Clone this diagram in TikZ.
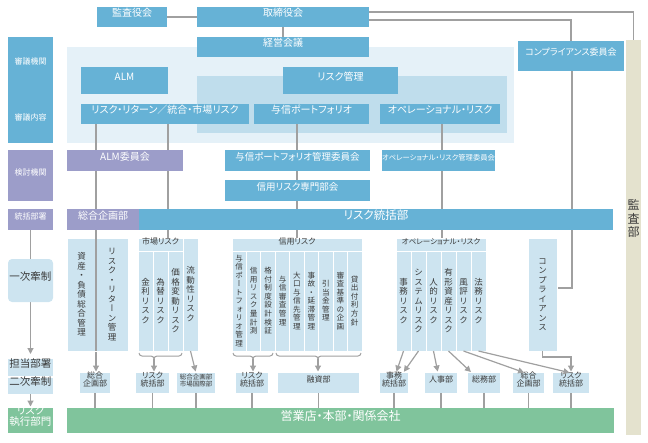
\documentclass[tikz,border=0pt]{standalone}
\usepackage{fontspec}
\setmainfont{Noto Sans CJK JP}[RawFeature=+palt]
\newfontfamily\vfont{Noto Sans CJK JP}[RawFeature=+vert]
\usetikzlibrary{fit,arrows.meta}
\definecolor{cBlue}{HTML}{66B2D6}
\definecolor{cPur}{HTML}{9C9DC9}
\definecolor{cBg}{HTML}{E5F1F8}
\definecolor{cBgB}{HTML}{BFDDEC}
\definecolor{cLt}{HTML}{CDE4F0}
\definecolor{cGreen}{HTML}{80C49C}
\definecolor{cBeige}{HTML}{E4E2CE}
\definecolor{cLine}{HTML}{A0A0A0}
\definecolor{cTxt}{HTML}{3A3A3A}
\makeatletter
\newcommand\VT[1]{{\vfont\vbox{\offinterlineskip\@tfor\VT@c:=#1\do{\hbox to 1em{\hss\vrule height .92em depth .2em width 0pt\VT@c\hss}}}}}
\makeatother
\newcommand\hbrace[5]{\draw[brc] (#1,#4) to[out=-90,in=180] ({#1+3},{#4+3}) -- ({#3-3},{#4+3}) to[out=0,in=90] (#3,{#4+6}) coordinate (#5) to[out=90,in=180] ({#3+3},{#4+3}) -- ({#2-3},{#4+3}) to[out=0,in=-90] (#2,#4);}
\pgfdeclarelayer{bgl}
\pgfdeclarelayer{lin}
\pgfsetlayers{bgl,lin,main}
\tikzset{
 box/.style={inner sep=0pt, outer sep=0pt, align=center},
 blu/.style={box, fill=cBlue, text=white, font=\fontsize{10}{12}\selectfont},
 pur/.style={box, fill=cPur, text=white, font=\fontsize{10}{12}\selectfont},
 lbl/.style={font=\fontsize{8}{9}\selectfont, text=white},
 col/.style={inner sep=0pt, outer sep=0pt, fill=cLt, text=cTxt, draw=white, line width=1pt, font=\fontsize{8}{9}\selectfont},
 vt/.style={inner sep=0pt, outer sep=0pt, text=cTxt, font=\fontsize{8.5}{9}\selectfont},
 sm/.style={box, fill=cLt, text=cTxt, font=\fontsize{8}{8.6}\selectfont},
 side/.style={box, fill=cLt, text=cTxt, font=\fontsize{10.5}{12}\selectfont},
 grn/.style={box, fill=cGreen, text=white},
 ln/.style={draw=cLine, line width=1.2pt},
 arr/.style={ln, -{Triangle[length=6pt,width=6pt]}, shorten >=1.5pt},
 brc/.style={draw=cLine, line width=1pt},
}
\begin{document}
\begin{tikzpicture}[x=1pt,y=-1pt]
\useasboundingbox (0,0) rectangle (648,442);
% top
\node[blu, fit={(97,7)(167,27)}] (kansa) {監査役会};
\node[blu, fit={(197,7)(369,27)}] (tori) {取締役会};
\node[blu, fit={(197,37)(369,57)}] (keiei) {経営会議};
\node[blu, fit={(518,41)(624,71)}, font=\fontsize{9}{11}\selectfont] (compc) {コンプライアンス委員会};
\node[box, fill=cBeige, fit={(626,40)(641,435)}] (audit) {};
\node[text=cTxt, font=\fontsize{12}{13}\selectfont, inner sep=0pt] (auditT) at (633.5,219) {\VT{監査部}};
% left labels
\node[blu, fit={(8,37)(53,143)}] (shingi) {};
\node[lbl] (shingiA) at (30.5,61) {審議機関};
\node[lbl] (shingiB) at (30.5,117) {審議内容};
\node[pur, fit={(8,150)(53,201)}, lbl] (kento) {検討機関};
\node[pur, fit={(8,209)(53,230)}, lbl] (tokatsu) {統括部署};
\node[side, rounded corners=4pt, fit={(8,259)(53,302)}] (ichiji) {一次牽制};
\node[side, fit={(8,359)(53,376)}] (tanto) {担当部署};
\node[side, fit={(8,378)(53,394)}] (niji) {二次牽制};
\node[grn, fit={(8,408)(53,433)}, font=\fontsize{10.5}{11.5}\selectfont] (shikko) {リスク\\執行部門};
% deliberation
\node[blu, fit={(81,67)(168,94)}] (alm) {ALM};
\node[blu, fit={(283,67)(398,94)}] (rkanri) {リスク管理};
\node[blu, fit={(81,104)(249,124)}] (rr) {リスク・リターン／統合・市場リスク};
\node[blu, fit={(254,104)(369,124)}] (ypf) {与信ポートフォリオ};
\node[blu, fit={(380,104)(500,124)}] (opr) {オペレーショナル・リスク};
% committees
\node[pur, fit={(67,150)(183,171)}] (almc) {ALM委員会};
\node[blu, fit={(225,150)(370,171)}, font=\fontsize{9.5}{11}\selectfont] (ypfc) {与信ポートフォリオ管理委員会};
\node[blu, fit={(382,150)(495,171)}, font=\fontsize{7.3}{9}\selectfont] (oprc) {オペレーショナル・リスク管理委員会};
\node[blu, fit={(225,180)(370,201)}, font=\fontsize{9.5}{11}\selectfont] (shinyo) {信用リスク専門部会};
% control depts
\node[pur, fit={(67,209)(139,230)}] (sogo) {総合企画部};
\node[blu, fit={(139,209)(613,230)}, font=\fontsize{11.5}{13}\selectfont] (rtb) {リスク統括部};
% first-line columns
\node[col, fit={(67,238)(96,351)}] (cA) {};
\node[vt] (cAt) at (cA.center) {\VT{資産・負債総合管理}};
\node[col, fit={(96,238)(128,351)}] (cB) {};
\node[vt] (cBt) at (cB.center) {\VT{リスク・リターン管理}};
\node[col, fit={(138,238)(183,251)}] (mkt) {市場リスク};
\node[col, fit={(138,251)(153,351)}] (m1) {};
\node[vt] (m1t) at (m1.center) {\VT{金利リスク}};
\node[col, fit={(153,251)(168,351)}] (m2) {};
\node[vt] (m2t) at (m2.center) {\VT{為替リスク}};
\node[col, fit={(168,251)(183,351)}] (m3) {};
\node[vt] (m3t) at (m3.center) {\VT{価格変動リスク}};
\node[col, fit={(183,238)(198,351)}] (m4) {};
\node[vt] (m4t) at (m4.center) {\VT{流動性リスク}};
\node[col, fit={(232,238)(362,251)}] (cr) {信用リスク};
\foreach \t [count=\i] in {与信ポートフォリオ管理,信用リスク量計測,格付制度設計検証,与信審査管理,大口与信先管理,事故・延滞管理,引当金管理,審査基準の企画,貸出付利方針}{
  \node[col, fit={({232+(\i-1)*14.444},251) ({232+\i*14.444},351)}] (cr\i) {};
  \node[vt, font=\fontsize{7.6}{8}\selectfont] (crt\i) at (cr\i.center) {\expandafter\VT\expandafter{\t}};
}
\node[col, fit={(396,238)(486,251)}, font=\fontsize{7.5}{8}\selectfont] (orh) {オペレーショナル・リスク};
\foreach \t [count=\i] in {事務リスク,システムリスク,人的リスク,有形資産リスク,風評リスク,法務リスク}{
  \node[col, fit={({396+(\i-1)*15},251) ({396+\i*15},351)}] (or\i) {};
  \node[vt] (ort\i) at (or\i.center) {\expandafter\VT\expandafter{\t}};
}
\node[col, fit={(528,238)(557,351)}] (comp) {};
\node[vt] (compt) at (comp.center) {\VT{コンプライアンス}};
% second-line boxes
\node[sm, fit={(80,373)(110,393)}] (b1) {総合\\企画部};
\node[sm, fit={(136,373)(169,393)}] (b2) {リスク\\統括部};
\node[sm, fit={(177,373)(215,393)}, font=\fontsize{6.5}{7.2}\selectfont] (b3) {総合企画部\\市場国際部};
\node[sm, fit={(236,373)(268,393)}] (b4) {リスク\\統括部};
\node[sm, fit={(278,373)(359,393)}] (b5) {融資部};
\node[sm, fit={(380,373)(408,393)}] (b6) {事務\\統括部};
\node[sm, fit={(425,373)(457,393)}] (b7) {人事部};
\node[sm, fit={(468,373)(500,393)}] (b8) {総務部};
\node[sm, fit={(513,373)(544,393)}] (b9) {総合\\企画部};
\node[sm, fit={(553,373)(589,393)}] (b10) {リスク\\統括部};
\node[grn, fit={(67,408)(614,433)}, font=\fontsize{12}{14}\selectfont] (eigyo) {営業店・本部・関係会社};
% helper coordinates
\coordinate (X96) at (96,0);
\coordinate (X168) at (168,0);
\coordinate (X297) at (297,0);
\coordinate (X442) at (442,0);
\coordinate (K) at (572,288);
% backgrounds
\begin{pgfonlayer}{bgl}
\fill[cBg] (67,47) rectangle (514,143);
\fill[cBgB] (197,76) rectangle (507,133);
\end{pgfonlayer}
% connectors under boxes
\begin{pgfonlayer}{lin}
\draw[ln] (kansa.east) -- (tori.west);
\draw[ln] (tori.south) -- (keiei.north);
\draw[ln] ([yshift=5pt]tori.east) -| (audit.north);
\draw[ln] ([yshift=-3pt]tori.east) -| (compc.north);
\draw[arr] (rr.south -| X96) -- (b1.north -| X96);
\draw[ln] (rr.south -| X168) -- (mkt.north -| X168);
\draw[ln] (ypf.south -| X297) -- (cr.north -| X297);
\draw[ln] (opr.south -| X442) -- (orh.north -| X442);
\draw[ln] (compc.south -| K) -- (K) -- (comp.east |- K);
\draw[ln] (tokatsu.south) -- (ichiji.north);
\draw[arr, shorten >=5pt] (ichiji.south) -- (tanto.north);
\draw[arr] (niji.south) -- (shikko.north);
\foreach \b in {b1,b2,b3,b4,b5,b6,b7,b8,b9,b10}{
  \draw[ln] (\b.south) -- (\b.south |- eigyo.north);
}
\end{pgfonlayer}
% visible line between first columns
\draw[ln] (cA.north east) -- (cA.south east);
% braces and arrows
\hbrace{139}{182}{154}{353}{bM}
\hbrace{233}{273}{253}{353}{bC1}
\hbrace{276}{361}{318}{353}{bC2}
\draw[arr] (bM) -- (b2.north -| bM);
\draw[arr] (bC1) -- (b4.north -| bC1);
\draw[arr] (bC2) -- (b5.north -| bC2);
\draw[arr] (m4.south) -- (b3.north);
\draw[arr] (or1.south) -- ([xshift=2pt]b6.north);
\draw[arr] (or2.south) -- ([xshift=9pt]b6.north);
\draw[arr] (or3.south) -- ([xshift=-3pt]b7.north);
\draw[arr] (or4.south) -- ([xshift=-12pt]b8.north);
\draw[arr] (or5.south) -- ([xshift=-3pt]b9.north);
\draw[arr] (or6.south) -- (b10.north);
\draw[arr] (comp.south) -- ++(0,6) -| (b10.north);
\end{tikzpicture}
\end{document}
